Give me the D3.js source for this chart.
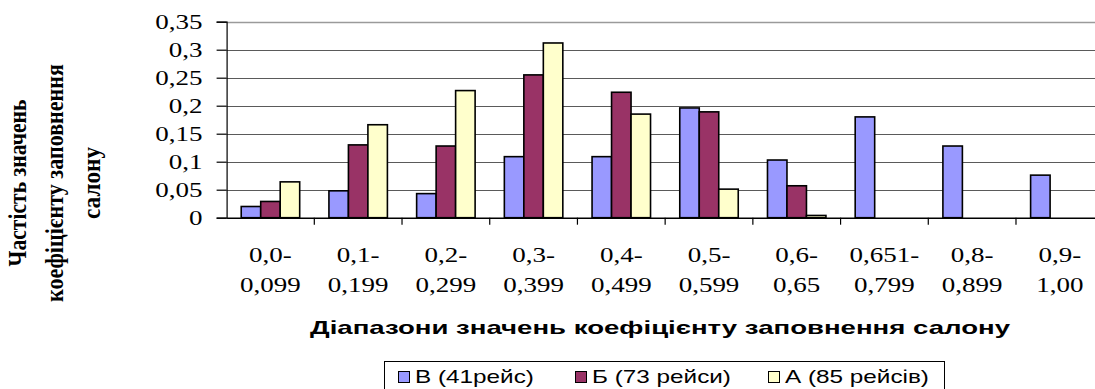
<!DOCTYPE html>
<html>
<head>
<meta charset="utf-8">
<script src="https://cdn.jsdelivr.net/npm/d3@7"></script>
<style>
  html, body { margin: 0; padding: 0; background: #fff; }
  svg { display: block; }
  .serif { font-family: "Liberation Serif", "Times New Roman", Times, "DejaVu Serif", "Noto Serif", serif; }
  .sans { font-family: "Liberation Sans", Arial, Helvetica, sans-serif; }
</style>
</head>
<body>
<svg id="chart" width="1095" height="389"></svg>
<script>
// Range categories of the cabin load factor
const categories = ["0,0-0,099", "0,1-0,199", "0,2-0,299", "0,3-0,399", "0,4-0,499",
                    "0,5-0,599", "0,6-0,65", "0,651-0,799", "0,8-0,899", "0,9-1,00"];

// Series names (legend) and colours
const seriesNames = ["В (41рейс)", "Б (73 рейси)", "А (85 рейсів)"];
const seriesColors = ["#9999FF", "#993366", "#FFFFCC"];

// Relative frequencies per series
const valuesV = [0.020, 0.048, 0.043, 0.109, 0.109, 0.196, 0.103, 0.180, 0.128, 0.076];
const valuesB = [0.029, 0.130, 0.128, 0.255, 0.224, 0.189, 0.057, 0, 0, 0];
const valuesA = [0.064, 0.166, 0.227, 0.312, 0.185, 0.051, 0.004, 0, 0, 0];

// Y axis tick values
const yTicks = [0, 0.05, 0.1, 0.15, 0.2, 0.25, 0.3, 0.35];

const yTitleLines = ["Частість значень", "коефіцієнту заповнення", "салону"];
const xTitle = "Діапазони значень коефіцієнту заповнення салону";

const seriesValues = [valuesV, valuesB, valuesA];

const SX = 1.35; // horizontal stretch of the lettering

const svg = d3.select("#chart");

const plot = { left: 226.6, right: 1103.7, top: 21.7, bottom: 217.7 };

const x0 = d3.scaleBand().domain(categories).range([plot.left, plot.right]).padding(0);
const x1 = d3.scaleBand().domain(seriesNames).range([0, x0.bandwidth()])
  .paddingInner(0).paddingOuter(0.75);
const y = d3.scaleLinear().domain([0, 0.35]).range([plot.bottom, plot.top]);

const locale = d3.formatLocale({ decimal: ",", thousands: " ", grouping: [3], currency: ["", ""] });
const fmt = v => locale.format("~g")(+v.toFixed(2));

// Gridlines
svg.append("g")
  .selectAll("line")
  .data(yTicks.filter(t => t > 0 && t < 0.35))
  .join("line")
  .attr("x1", plot.left).attr("x2", plot.right)
  .attr("y1", d => Math.round(y(d)) + 0.5).attr("y2", d => Math.round(y(d)) + 0.5)
  .attr("stroke", "#5a5a5a").attr("stroke-width", 1.2);

// Plot area top border
svg.append("line")
  .attr("x1", plot.left).attr("x2", plot.right)
  .attr("y1", Math.round(y(0.35)) + 0.5).attr("y2", Math.round(y(0.35)) + 0.5)
  .attr("stroke", "#9a9a9a").attr("stroke-width", 1.5);

// Bars
const groups = svg.append("g")
  .selectAll("g")
  .data(seriesNames)
  .join("g")
  .attr("fill", (d, i) => seriesColors[i]);

groups.selectAll("rect")
  .data((s, si) => categories.map((c, ci) => ({ c, s, v: seriesValues[si][ci] })))
  .join("rect")
  .filter(d => d.v > 0)
  .attr("x", d => x0(d.c) + x1(d.s))
  .attr("width", x1.bandwidth())
  .attr("y", d => y(d.v))
  .attr("height", d => y(0) - y(d.v))
  .attr("stroke", "#000")
  .attr("stroke-width", 1.6);

// Y axis
const yAxis = d3.axisLeft(y).tickValues(yTicks).tickSize(10).tickPadding(14).tickFormat(fmt);
const gy = svg.append("g").attr("transform", `translate(${plot.left},0)`).call(yAxis);
gy.attr("font-family", null).attr("font-size", null);
gy.select(".domain").attr("stroke", "#000").attr("stroke-width", 1.2);
gy.selectAll(".tick line").attr("stroke", "#000").attr("stroke-width", 1.2);
gy.selectAll(".tick text")
  .attr("x", 0)
  .attr("class", "serif")
  .attr("transform", `translate(-24,0) scale(${SX},1)`)
  .style("font-size", "20px").attr("fill", "#000").attr("dy", "0.34em");

// X axis
const xAxis = d3.axisBottom(x0).tickSize(0).tickFormat("");
const gx = svg.append("g").attr("transform", `translate(0,${plot.bottom})`).call(xAxis);
gx.select(".domain").attr("stroke", "#000").attr("stroke-width", 1.4);
gx.selectAll(".tick").remove();

// Tick marks at category boundaries
gx.append("g").selectAll("line")
  .data(categories.slice(1))
  .join("line")
  .attr("x1", d => x0(d)).attr("x2", d => x0(d))
  .attr("y1", 0).attr("y2", 7)
  .attr("stroke", "#000").attr("stroke-width", 1.2);

// Category labels in two lines
const catLabels = svg.append("g")
  .attr("class", "serif")
  .style("font-size", "20px").attr("fill", "#000").attr("text-anchor", "middle");
categories.forEach(c => {
  const k = c.indexOf("-");
  const cx = x0(c) + x0.bandwidth() / 2;
  catLabels.append("text")
    .attr("transform", `translate(${cx},262) scale(${SX},1)`)
    .text(c.slice(0, k + 1));
  catLabels.append("text")
    .attr("transform", `translate(${cx},292) scale(${SX},1)`)
    .text(c.slice(k + 1));
});

// X axis title
svg.append("text")
  .attr("class", "sans")
  .attr("x", 660).attr("y", 334)
  .attr("text-anchor", "middle")
  .style("font-weight", "bold").style("font-size", "19px")
  .attr("textLength", 700).attr("lengthAdjust", "spacingAndGlyphs")
  .attr("fill", "#000")
  .text(xTitle);

// Y axis title, three rotated lines
const yTitleX = [26, 63, 100];
const yTitleLen = [167, 238, 72];
yTitleLines.forEach((line, i) => {
  svg.append("text")
    .attr("class", "serif")
    .attr("transform", `translate(${yTitleX[i]},183) scale(${SX},1) rotate(-90)`)
    .attr("text-anchor", "middle")
    .style("font-weight", "bold").style("font-size", "18px")
    .attr("textLength", yTitleLen[i]).attr("lengthAdjust", "spacingAndGlyphs")
    .attr("fill", "#000")
    .text(line);
});

// Legend
const legend = svg.append("g");
legend.append("rect")
  .attr("x", 384.5).attr("y", 361.5).attr("width", 560).attr("height", 40)
  .attr("fill", "#fff").attr("stroke", "#000").attr("stroke-width", 1);
const legendX = [398, 575, 768];
seriesNames.forEach((s, i) => {
  legend.append("rect")
    .attr("x", legendX[i] + 0.5).attr("y", 371.5).attr("width", 11).attr("height", 11)
    .attr("fill", seriesColors[i]).attr("stroke", "#000").attr("stroke-width", 1);
  legend.append("text")
    .attr("class", "sans")
    .attr("transform", `translate(${legendX[i] + 17},383) scale(${SX},1)`)
    .style("font-size", "18px").attr("fill", "#000")
    .text(s);
});
</script>
</body>
</html>
